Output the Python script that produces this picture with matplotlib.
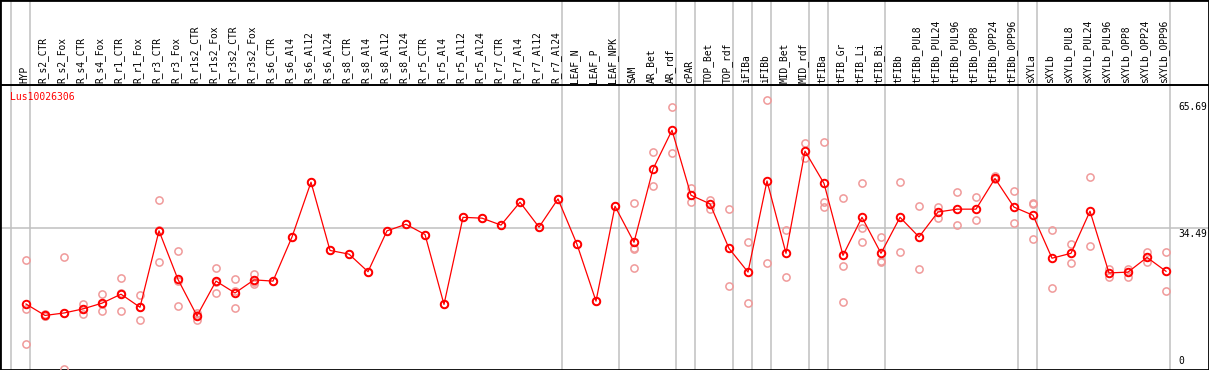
import matplotlib
matplotlib.use("Agg")
import matplotlib.pyplot as plt
import numpy as np

categories = ["HYP", "R_s2_CTR", "R_s2_Fox", "R_s4_CTR", "R_s4_Fox", "R_r1_CTR", "R_r1_Fox",
              "R_r3_CTR", "R_r3_Fox", "R_r1s2_CTR", "R_r1s2_Fox", "R_r3s2_CTR", "R_r3s2_Fox",
              "R_s6_CTR", "R_s6_Al4", "R_s6_Al12", "R_s6_Al24", "R_s8_CTR", "R_s8_Al4", "R_s8_Al12",
              "R_s8_Al24", "R_r5_CTR", "R_r5_Al4", "R_r5_Al12", "R_r5_Al24", "R_r7_CTR", "R_r7_Al4",
              "R_r7_Al12", "R_r7_Al24", "LEAF_N", "LEAF_P", "LEAF_NPK", "SAM", "AR_Bet", "AR_rdf",
              "cPAR", "TOP_Bet", "TOP_rdf", "iFIBa", "iFIBb", "MID_Bet", "MID_rdf", "tFIBa",
              "tFIB_Gr", "tFIB_Li", "tFIB_Bi", "tFIBb", "tFIBb_PUL8", "tFIBb_PUL24", "tFIBb_PUL96",
              "tFIBb_OPP8", "tFIBb_OPP24", "tFIBb_OPP96", "sXYLa", "sXYLb", "sXYLb_PUL8",
              "sXYLb_PUL24", "sXYLb_PUL96", "sXYLb_OPP8", "sXYLb_OPP24", "sXYLb_OPP96"]

group_sizes = [1, 28, 3, 3, 1, 2, 1, 1, 2, 1, 3, 7, 1, 7]

mean_values = [15.9, 13.1, 13.7, 14.7, 16.1, 18.3, 15.1, 33.8, 21.9, 13.0, 21.5, 18.6, 21.8,
               21.5, 32.3, 45.7, 29.0, 28.1, 23.8, 33.8, 35.4, 32.9, 15.8, 37.1, 36.9, 35.2,
               40.8, 34.7, 41.6, 30.5, 16.6, 39.8, 31.0, 48.9, 58.4, 42.5, 40.4, 29.5, 23.7,
               46.0, 28.3, 53.3, 45.4, 27.8, 37.1, 28.3, 37.1, 32.3, 38.4, 39.1, 39.1, 46.6,
               39.6, 37.6, 27.1, 28.3, 38.6, 23.5, 23.7, 27.3, 23.9]

replicates = [
    [26.6, 14.7, 6.0], [13.4, 13.0, 13.0], [27.4, 0.1, 13.6], [16.0, 13.4, 14.7],
    [18.3, 14.1, 15.9], [22.2, 14.1, 18.6], [18.1, 12.0, 15.2], [41.3, 26.1, 34.0],
    [28.8, 15.3, 21.6], [13.8, 12.0, 13.2], [24.6, 18.6, 21.3], [21.9, 14.8, 19.1],
    [23.2, 20.8, 21.4], [21.5], [32.3], [45.7], [29.0], [28.1], [23.8], [33.8], [35.4],
    [32.9], [15.8], [37.1], [36.9], [35.2], [40.8], [34.7], [41.6], [30.5], [16.6], [39.8],
    [40.5, 29.7, 29.4, 24.6], [53.0, 44.7], [64.0, 52.8], [44.3, 40.8], [41.4, 39.1],
    [39.1, 20.2], [31.0, 16.1], [65.69, 25.9], [33.9, 22.4], [55.2, 51.5],
    [55.5, 40.9, 39.7], [41.8, 25.3, 16.3], [45.5, 34.6, 31.1], [32.2, 26.2, 26.5],
    [45.7, 28.5], [39.8, 24.4], [39.7, 36.9], [43.3, 35.2], [42.0, 36.4], [47.2, 46.4],
    [43.5, 35.7], [40.5, 40.3, 31.7], [34.1, 19.7], [30.6, 25.9], [46.9, 30.0],
    [24.5, 22.4], [24.5, 22.6], [28.5, 26.2], [28.5, 19.0],
]

y_ticks = [65.69, 34.49, 0]
gene_name = "Lus10026306"

# ---- layout (pixel geometry of the reference) ----
W, H = 1209, 370
px_per_unit_x = 19.0
x0_px = 26.0
px_per_unit_y = 141.0 / 34.49
y0_px = 369.0

fig = plt.figure(figsize=(W / 100, H / 100), dpi=100)
ax = fig.add_axes([0, 0, 1, 1])
ax.set_xlim(-x0_px / px_per_unit_x, (W - x0_px) / px_per_unit_x)
ax.set_ylim(-(H - y0_px) / px_per_unit_y, y0_px / px_per_unit_y)
ax.set_xticks([])
ax.set_yticks([])
for s in ax.spines.values():
    s.set_color("black")
    s.set_linewidth(2)

header_y = (y0_px - 85) / px_per_unit_y
mono = "DejaVu Sans Mono"

# group separators
bounds = np.concatenate([[0], np.cumsum(group_sizes)])
for k in bounds:
    ax.axvline(k - 15 / 19, color="#c0c0c0", lw=1.1, zorder=1)

ax.axhline(y_ticks[1], color="#c0c0c0", lw=1.1, zorder=1)
ax.axhline(header_y, color="black", lw=1.4, zorder=2)

x = np.arange(len(categories))

# replicate points
rx = np.concatenate([[i] * len(r) for i, r in enumerate(replicates)])
ry = np.concatenate(replicates)
ax.plot(rx, ry, linestyle="none", marker="o", markersize=5.2, markerfacecolor="none",
        markeredgecolor="#f09a9a", markeredgewidth=1.1, zorder=3, clip_on=False)

# mean line
ax.plot(x, mean_values, color="red", lw=0.9, zorder=4)
ax.plot(x, mean_values, linestyle="none", marker="o", markersize=5.4, markerfacecolor="none",
        markeredgecolor="red", markeredgewidth=1.4, zorder=5)

# category labels
for i, c in enumerate(categories):
    ax.text(i - 2 / 19, header_y + 0.5, c, rotation=90, ha="center", va="bottom",
            fontsize=6.9, family=mono, color="black")

# title
ax.text(-16 / 19, (y0_px - 97) / px_per_unit_y, gene_name, color="red", fontsize=7,
        family=mono, ha="left", va="center")

# y tick labels on the right
tx = (1178 - x0_px) / px_per_unit_x
for v in y_ticks:
    if v == 0:
        ax.text(tx, v + 0.8, f"{v:g}", fontsize=6.9, family=mono, ha="left", va="bottom")
    else:
        ax.text(tx, v - 0.3, f"{v:.2f}", fontsize=6.9, family=mono, ha="left", va="top")

fig.savefig("out.png", dpi=100)
